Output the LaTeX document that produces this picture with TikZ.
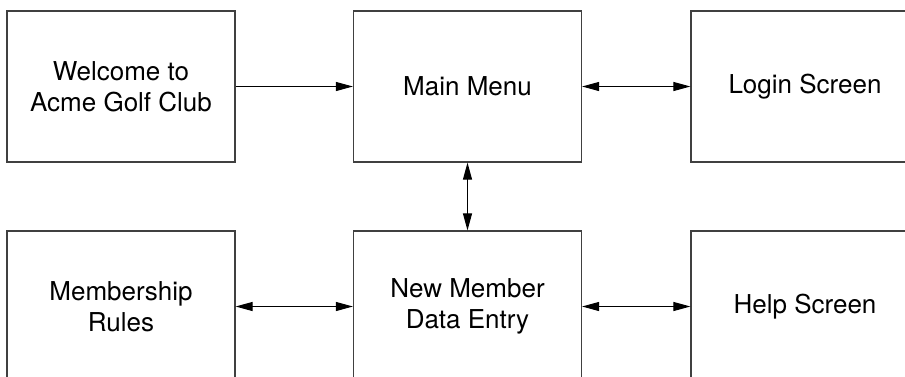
\documentclass[tikz,border=0pt]{standalone}
\usepackage{fontspec}
\setmainfont{TeX Gyre Heros}
\usetikzlibrary{arrows.meta}

\tikzset{
	screen/.style={draw=black!75, line width=1.2pt, minimum width=228pt, minimum height=151pt,
		align=center, inner sep=0pt, font=\fontsize{26}{31}\selectfont},
	link/.style={line width=1pt, {Triangle[length=17pt,width=9pt]}-{Triangle[length=17pt,width=9pt]}},
	onelink/.style={line width=1pt, -{Triangle[length=17pt,width=9pt]}}
}

\begin{document}
\begin{tikzpicture}[x=1pt,y=-1pt]
	\useasboundingbox (0,0) rectangle (905,376);
	% top row
	\node[screen] (welcome) at (121,86.5) {Welcome to\\Acme Golf Club};
	\node[screen] (menu) at (467.5,86.5) {Main Menu};
	\node[screen] (login) at (805,86.5) {Login Screen};
	% bottom row
	\node[screen] (rules) at (121,306.5) {Membership\\Rules};
	\node[screen] (entry) at (467.5,306.5) {New Member\\Data Entry};
	\node[screen] (help) at (805,306.5) {Help Screen};
	% connectors
	\draw[onelink] (welcome) -- (menu);
	\draw[link] (menu) -- (login);
	\draw[link] (menu) -- (entry);
	\draw[link] (rules) -- (entry);
	\draw[link] (entry) -- (help);
\end{tikzpicture}
\end{document}
